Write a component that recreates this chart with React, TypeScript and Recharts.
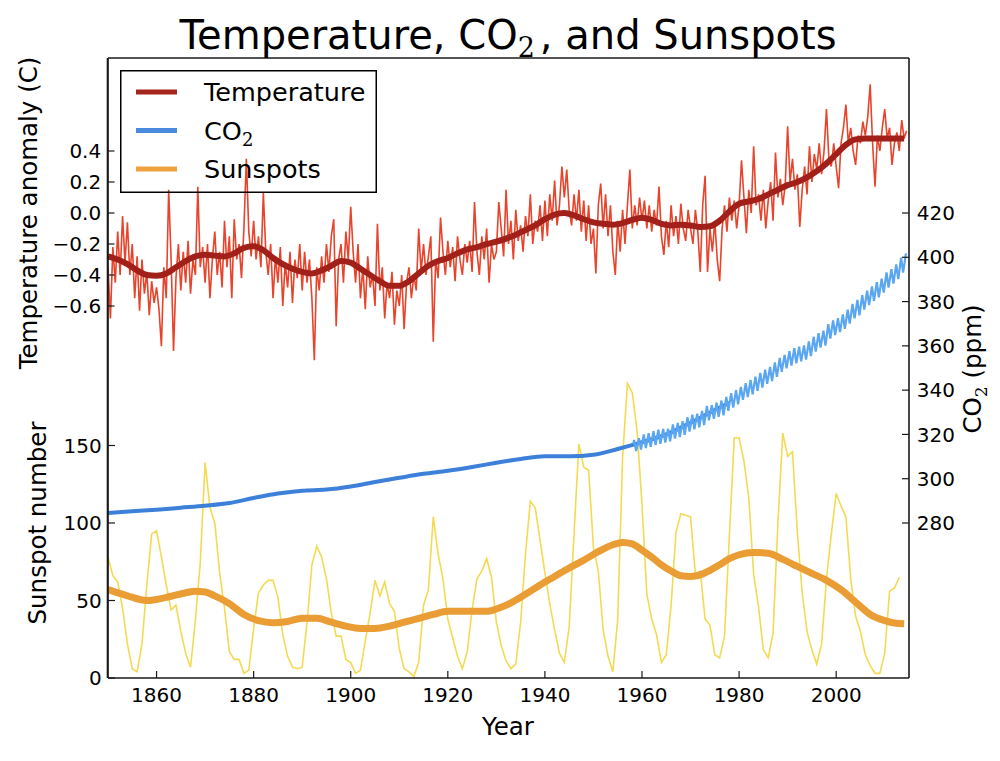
import React from 'react';
import { ComposedChart, Line, XAxis, YAxis, Legend } from 'recharts';

// ---------- axis ticks ----------
const xTicks = [1860, 1880, 1900, 1920, 1940, 1960, 1980, 2000];
const tempTicks = [-0.6, -0.4, -0.2, 0, 0.2, 0.4];
const sunTicks = [0, 50, 100, 150];
const co2Ticks = [280, 300, 320, 340, 360, 380, 400, 420];

// ---------- temperature anomaly (half-year samples from 1850) ----------
const tempStartYear = 1850;
const tempRaw = [
  -0.35, -0.68, -0.22, -0.45, -0.12, -0.40, -0.02, -0.32, -0.06, -0.40, -0.20, -0.55, -0.28, -0.63, -0.30, -0.52, -0.38, -0.66, -0.44, -0.58,
  -0.48, -0.62, -0.86, -0.35, -0.55, 0.15, -0.30, -0.89, -0.42, -0.20, -0.50, -0.25, -0.45, -0.18, -0.52, -0.30, -0.40, 0.17, -0.35, -0.22,
  -0.45, -0.20, -0.55, -0.30, -0.12, -0.40, -0.25, -0.48, -0.05, -0.35, -0.15, -0.55, -0.04, -0.30, -0.20, -0.42, -0.10, 0.35, -0.12, -0.28,
  -0.05, -0.30, -0.15, -0.35, 0.13, -0.25, -0.40, -0.20, -0.55, -0.28, -0.45, -0.22, -0.60, -0.32, -0.48, -0.25, -0.58, -0.30, -0.42, -0.20,
  -0.50, -0.25, -0.45, -0.30, -0.55, -0.95, -0.35, -0.50, -0.28, -0.45, -0.20, -0.38, -0.15, -0.04, -0.73, -0.30, -0.20, -0.45, -0.12, -0.30,
  0.04, -0.25, -0.45, -0.20, -0.55, -0.35, -0.62, -0.28, -0.48, -0.40, -0.60, -0.07, -0.50, -0.35, -0.68, -0.45, -0.55, -0.38, -0.72, -0.50,
  -0.60, -0.40, -0.75, -0.45, -0.35, -0.55, -0.40, -0.50, -0.10, -0.38, -0.20, -0.40, -0.28, -0.15, -0.83, -0.30, -0.42, -0.03, -0.25, -0.40,
  -0.18, -0.35, -0.22, -0.44, -0.15, -0.30, -0.40, -0.20, -0.32, -0.18, -0.38, 0.07, -0.25, -0.40, -0.15, -0.30, -0.10, -0.45, -0.20, -0.30,
  -0.25, 0.07, -0.10, -0.28, 0.15, -0.20, -0.05, -0.30, 0.02, -0.18, -0.08, -0.25, -0.02, -0.15, 0.12, -0.20, -0.05, -0.12, 0.05, -0.18,
  0.08, -0.15, 0.12, -0.05, 0.21, -0.08, 0.05, 0.30, 0.10, 0.28, 0.02, -0.08, 0.12, -0.05, 0.15, -0.12, 0.08, -0.18, 0.05, -0.20,
  -0.10, -0.39, 0.05, 0.19, -0.10, 0.12, -0.15, 0.05, -0.25, -0.40, -0.05, -0.25, 0.02, -0.20, 0.05, 0.28, -0.10, 0.05, -0.08, 0.10,
  -0.05, 0.08, -0.10, 0.05, -0.12, 0.02, -0.08, 0.17, -0.15, -0.27, -0.05, -0.22, 0.05, -0.15, -0.02, -0.20, 0.06, -0.10, -0.18, 0.02,
  -0.10, -0.20, 0.02, -0.12, -0.38, 0.05, 0.24, -0.38, -0.10, -0.25, -0.05, -0.30, -0.44, -0.10, 0.05, -0.12, 0.10, -0.05, 0.08, -0.10,
  0.05, 0.34, 0.10, -0.13, 0.15, 0.00, 0.43, 0.05, 0.12, -0.05, 0.15, -0.10, 0.08, 0.20, -0.05, 0.39, 0.10, 0.22, 0.05, 0.18,
  0.56, 0.20, 0.35, 0.15, 0.25, -0.09, 0.15, 0.30, 0.12, 0.43, 0.20, 0.38, 0.28, 0.45, 0.25, 0.40, 0.67, 0.35, 0.30, 0.45,
  0.30, 0.16, 0.45, 0.55, 0.70, 0.45, 0.55, 0.40, 0.31, 0.50, 0.45, 0.59, 0.50, 0.62, 0.83, 0.45, 0.17, 0.50, 0.40, 0.55,
  0.67, 0.48, 0.55, 0.31, 0.45, 0.52, 0.40, 0.60, 0.48, 0.53,
];

// ---------- smoothed temperature ----------
const tempSmoothYears = [
  1850, 1852, 1854, 1856, 1858, 1860, 1862, 1864, 1866, 1868, 1870, 1872, 1874, 1876, 1878, 1880, 1882, 1884, 1886, 1888,
  1890, 1892, 1894, 1896, 1898, 1900, 1902, 1904, 1906, 1908, 1910, 1912, 1914, 1916, 1918, 1920, 1922, 1924, 1926, 1928,
  1930, 1932, 1934, 1936, 1938, 1940, 1942, 1944, 1946, 1948, 1950, 1952, 1954, 1956, 1958, 1960, 1962, 1964, 1966, 1968,
  1970, 1972, 1974, 1976, 1978, 1980, 1982, 1984, 1986, 1988, 1990, 1992, 1994, 1996, 1998, 2000, 2002, 2004, 2006, 2008,
  2010, 2012, 2014,
];
const tempSmooth = [
  -0.28, -0.30, -0.33, -0.37, -0.40, -0.405, -0.39, -0.35, -0.31, -0.28, -0.27, -0.275, -0.28, -0.26, -0.225, -0.215, -0.24, -0.29, -0.33, -0.36,
  -0.38, -0.39, -0.37, -0.34, -0.31, -0.32, -0.36, -0.40, -0.44, -0.47, -0.47, -0.44, -0.39, -0.34, -0.31, -0.29, -0.26, -0.235, -0.22, -0.20,
  -0.185, -0.165, -0.14, -0.11, -0.08, -0.04, -0.01, 0.0, -0.015, -0.04, -0.06, -0.07, -0.075, -0.065, -0.045, -0.03, -0.045, -0.07, -0.08, -0.075,
  -0.08, -0.09, -0.085, -0.05, 0.01, 0.06, 0.075, 0.09, 0.12, 0.15, 0.18, 0.20, 0.23, 0.27, 0.32, 0.38, 0.44, 0.475, 0.48, 0.48,
  0.48, 0.48, 0.48,
];

// ---------- sunspots (annual from 1850) ----------
const sunStartYear = 1850;
const sunspots = [
  78, 66, 62, 45, 22, 6, 4, 22, 60, 93,
  95, 78, 60, 44, 47, 30, 16, 7, 37, 74,
  139, 110, 100, 68, 45, 17, 12, 12, 3, 5,
  32, 55, 60, 63, 63, 52, 28, 14, 7, 6,
  7, 36, 73, 85, 78, 64, 42, 27, 27, 12,
  10, 3, 5, 24, 42, 63, 53, 62, 48, 43,
  19, 6, 4, 1, 10, 47, 57, 104, 80, 64,
  38, 26, 14, 6, 17, 44, 64, 69, 77, 65,
  36, 21, 11, 6, 9, 36, 80, 114, 110, 89,
  68, 48, 31, 16, 10, 33, 93, 151, 136, 134,
  84, 69, 31, 14, 4, 38, 142, 190, 184, 159,
  112, 54, 38, 28, 10, 15, 47, 94, 106, 105,
  104, 67, 69, 38, 34, 15, 13, 27, 92, 155,
  155, 140, 116, 67, 46, 18, 13, 29, 100, 158,
  143, 146, 94, 55, 30, 18, 9, 22, 64, 93,
  119, 111, 104, 64, 40, 30, 15, 8, 3, 3,
  16, 56, 58, 65,
];

// ---------- smoothed sunspots ----------
const sunSmoothYears = [
  1850, 1854, 1858, 1862, 1866, 1868, 1870, 1872, 1875, 1878, 1881, 1884, 1887, 1890, 1893, 1896, 1899, 1902, 1905, 1908,
  1911, 1914, 1917, 1920, 1924, 1928, 1930, 1933, 1936, 1939, 1942, 1945, 1948, 1951, 1954, 1956, 1958, 1960, 1962, 1964,
  1966, 1968, 1970, 1972, 1974, 1976, 1978, 1980, 1983, 1986, 1989, 1992, 1995, 1998, 2001, 2004, 2007, 2010, 2012, 2014,
];
const sunSmooth = [
  57, 53, 50, 52, 55, 56, 55.5, 53, 48, 41, 37, 35.7, 36.5, 38.5, 38.5, 36, 33.5, 32, 32, 33.5,
  36, 38.5, 41, 43, 43, 43, 44.5, 48.5, 54, 60, 65.5, 71, 76, 81.5, 86, 87.5, 86.5, 82.5, 78, 73,
  69, 66, 65.5, 66.5, 69.5, 73, 77, 79.5, 81, 80.5, 76.5, 72, 67.5, 63, 57, 49, 41, 37, 35.5, 35,
];

// ---------- CO2: ice-core record ----------
const iceYears = [
  1850, 1855, 1860, 1865, 1870, 1875, 1880, 1885, 1890, 1895, 1900, 1905, 1910, 1915, 1920, 1925, 1930, 1935, 1940, 1945,
  1950, 1955, 1960, 1965, 1970, 1975, 1978,
];
const iceCO2 = [
  284.5, 285.3, 286.0, 286.9, 287.8, 289.0, 291.3, 293.3, 294.6, 295.1, 296.5, 298.5, 300.4, 302.2, 303.6, 305.3, 307.2, 308.9, 310.2, 310.1,
  310.8, 313.4, 316.5, 320.0, 325.3, 331.0, 334.3,
];

// ---------- CO2: Mauna Loa seasonal high (May) and low (Oct) from 1958 ----------
const mlStartYear = 1958;
const mlMay = [
  317.5, 318.3, 320.0, 320.6, 321.5, 322.1, 322.5, 322.6, 324.5, 325.2,
  326.0, 327.8, 328.9, 329.4, 330.6, 332.9, 333.2, 334.4, 335.3, 336.9,
  338.6, 340.0, 341.5, 343.1, 344.6, 346.1, 347.8, 349.2, 350.5, 352.5,
  354.5, 355.9, 357.6, 359.0, 359.6, 360.2, 362.0, 364.1, 365.7, 366.9,
  369.8, 371.5, 372.5, 374.2, 376.4, 378.9, 380.8, 382.9, 384.9, 386.8,
  388.8, 390.4, 393.2, 394.6, 396.8, 399.8, 401.8,
];
const mlOct = [
  312.5, 313.2, 313.8, 314.4, 315.2, 315.8, 316.3, 316.9, 318.1, 318.8,
  319.8, 321.3, 322.3, 323.2, 324.2, 326.4, 327.0, 327.9, 328.6, 330.7,
  332.1, 333.6, 335.6, 336.9, 338.1, 339.7, 341.2, 342.8, 344.1, 346.0,
  348.3, 349.9, 351.1, 352.1, 353.0, 353.8, 355.4, 357.4, 359.2, 360.1,
  363.3, 364.9, 366.2, 367.7, 370.0, 372.4, 373.8, 376.4, 378.4, 380.3,
  381.9, 384.0, 386.3, 388.1, 390.1, 393.1,
];

// ---------- legend ----------
const legendItems = [
  { name: 'Temperature', color: '#A5251C' },
  { name: 'CO2', color: '#4A8ADF' },
  { name: 'Sunspots', color: '#EDA23E' },
];

// ---------- build tables for the library ----------
const tempRawData = tempRaw.map((v, i) => ({ x: tempStartYear + i * 0.5, v }));
const tempSmoothData = tempSmoothYears.map((x, i) => ({ x, v: tempSmooth[i] }));
const sunData = sunspots.map((v, i) => ({ x: sunStartYear + i, v }));
const sunSmoothData = sunSmoothYears.map((x, i) => ({ x, v: sunSmooth[i] }));
const iceData = iceYears.map((x, i) => ({ x, v: iceCO2[i] }));
const mlData: { x: number; v: number }[] = [{ x: 1958.2, v: 315.7 }];
mlMay.forEach((v, i) => {
  mlData.push({ x: mlStartYear + i + 0.37, v });
  if (i < mlOct.length) mlData.push({ x: mlStartYear + i + 0.79, v: mlOct[i] });
});

const FONT = 'DejaVu Sans, Verdana, sans-serif';
const SERIF = 'DejaVu Serif, Liberation Serif, serif';
const axisLineStyle = { stroke: '#1a1a1a', strokeWidth: 1.6 };
const tickLineStyle = { stroke: '#1a1a1a', strokeWidth: 1.2 };

const fmtTemp = (v: number) => (v < 0 ? '\u2212' + Math.abs(v).toFixed(1) : v.toFixed(1));

const BottomTick = (p: any) => (
  <text x={p.x} y={p.y} textAnchor="middle" fontSize={20} fontFamily={FONT} fill="#000">
    {p.payload.value}
  </text>
);
const LeftTempTick = (p: any) => (
  <text x={p.x} y={p.y} dy={7.2} textAnchor="end" fontSize={20} fontFamily={FONT} fill="#000">
    {fmtTemp(p.payload.value)}
  </text>
);
const LeftSunTick = (p: any) => (
  <text x={p.x} y={p.y} dy={7.2} textAnchor="end" fontSize={20} fontFamily={FONT} fill="#000">
    {p.payload.value}
  </text>
);
const RightTick = (p: any) => (
  <text x={p.x} y={p.y} dy={7.2} textAnchor="start" fontSize={20} fontFamily={FONT} fill="#000">
    {p.payload.value}
  </text>
);

const LegendBox = () => (
  <svg width={258} height={124} style={{ display: 'block', overflow: 'visible' }}>
    <rect x={0.75} y={0.75} width={255.5} height={121.5} fill="none" stroke="#000" strokeWidth={1.5} />
    {legendItems.map((it, i) => {
      const cy = 22 + i * 38.5;
      return (
        <g key={it.name}>
          <line x1={16} x2={57} y1={cy} y2={cy} stroke={it.color} strokeWidth={5} />
          <text x={84} y={cy + 9} fontSize={25.5} fontFamily={FONT} fill="#000">
            {it.name === 'CO2' ? (
              <>
                CO
                <tspan fontFamily={SERIF} fontSize={18} dy={6}>2</tspan>
              </>
            ) : (
              it.name
            )}
          </text>
        </g>
      );
    })}
  </svg>
);

const AX = 0.5; // thin axis band so axes render at the plot edges

export default function App() {
  return (
    <div style={{ position: 'absolute', left: 0, top: 0, width: 1000, height: 761, background: '#fff' }}>
      <ComposedChart
        width={1000}
        height={761}
        margin={{ top: 58 - AX, right: 91 - AX, bottom: 83 - AX, left: 108 - 2 * AX }}
      >
        <XAxis
          xAxisId="b"
          dataKey="x"
          type="number"
          domain={[1850, 2015]}
          ticks={xTicks}
          interval={0}
          allowDataOverflow
          height={AX}
          tickSize={-7}
          tickMargin={31}
          axisLine={axisLineStyle}
          tickLine={tickLineStyle}
          tick={BottomTick}
        />
        <XAxis
          xAxisId="t"
          orientation="top"
          dataKey="x"
          type="number"
          domain={[1850, 2015]}
          ticks={xTicks}
          interval={0}
          allowDataOverflow
          height={AX}
          tickSize={-7}
          axisLine={axisLineStyle}
          tickLine={tickLineStyle}
          tick={false}
        />
        <YAxis
          yAxisId="temp"
          orientation="left"
          type="number"
          domain={[-3, 1]}
          ticks={tempTicks}
          interval={0}
          allowDataOverflow
          width={AX}
          tickSize={-7}
          tickMargin={13.3}
          axisLine={axisLineStyle}
          tickLine={tickLineStyle}
          tick={LeftTempTick}
        />
        <YAxis
          yAxisId="sun"
          orientation="left"
          type="number"
          domain={[0, 400]}
          ticks={sunTicks}
          interval={0}
          allowDataOverflow
          width={AX}
          tickSize={-7}
          tickMargin={13.3}
          axisLine={axisLineStyle}
          tickLine={tickLineStyle}
          tick={LeftSunTick}
        />
        <YAxis
          yAxisId="co2"
          orientation="right"
          type="number"
          domain={[210, 490]}
          ticks={co2Ticks}
          interval={0}
          allowDataOverflow
          width={AX}
          tickSize={-7}
          tickMargin={14.7}
          axisLine={axisLineStyle}
          tickLine={tickLineStyle}
          tick={RightTick}
        />
        <Legend
          layout="horizontal"
          verticalAlign="middle"
          align="center"
          content={() => <LegendBox />}
          wrapperStyle={{ left: 120, top: 70, width: 258, height: 124 }}
        />
        <Line xAxisId="b" yAxisId="sun" data={sunData} dataKey="v" type="linear" stroke="#F4DA52" strokeWidth={1.6}
          dot={false} activeDot={false} isAnimationActive={false} legendType="none" />
        <Line xAxisId="b" yAxisId="sun" data={sunSmoothData} dataKey="v" type="monotone" stroke="#EA9D34" strokeWidth={7}
          dot={false} activeDot={false} isAnimationActive={false} legendType="none" />
        <Line xAxisId="b" yAxisId="co2" data={iceData} dataKey="v" type="monotone" stroke="#3D80DA" strokeWidth={4}
          dot={false} activeDot={false} isAnimationActive={false} legendType="none" />
        <Line xAxisId="b" yAxisId="co2" data={mlData} dataKey="v" type="linear" stroke="#5AA6F0" strokeWidth={2.2}
          dot={false} activeDot={false} isAnimationActive={false} legendType="none" />
        <Line xAxisId="b" yAxisId="temp" data={tempRawData} dataKey="v" type="linear" stroke="#E8432B" strokeWidth={1.6}
          dot={false} activeDot={false} isAnimationActive={false} legendType="none" />
        <Line xAxisId="b" yAxisId="temp" data={tempSmoothData} dataKey="v" type="monotone" stroke="#A2201A" strokeWidth={6}
          dot={false} activeDot={false} isAnimationActive={false} legendType="none" />
      </ComposedChart>
      <svg width={1000} height={761} style={{ position: 'absolute', left: 0, top: 0, pointerEvents: 'none' }}>
        <text x={508} y={49} textAnchor="middle" fontSize={40} fontFamily={FONT} fill="#000">
          Temperature, CO
          <tspan fontFamily={SERIF} fontSize={27} dy={8}>2</tspan>
          <tspan dy={-8} dx={5}>, and Sunspots</tspan>
        </text>
        <text transform="translate(37,213) rotate(-90)" textAnchor="middle" fontSize={24.5} fontFamily={FONT} fill="#000">
          Temperature anomaly (C)
        </text>
        <text transform="translate(46,523) rotate(-90)" textAnchor="middle" fontSize={24.5} fontFamily={FONT} fill="#000">
          Sunspot number
        </text>
        <text transform="translate(981,369) rotate(-90)" textAnchor="middle" fontSize={24.5} fontFamily={FONT} fill="#000">
          CO
          <tspan fontFamily={SERIF} fontSize={17} dy={6}>2</tspan>
          <tspan dy={-6}> (ppm)</tspan>
        </text>
        <text x={508} y={735} textAnchor="middle" fontSize={24.5} fontFamily={FONT} fill="#000">
          Year
        </text>
      </svg>
    </div>
  );
}
